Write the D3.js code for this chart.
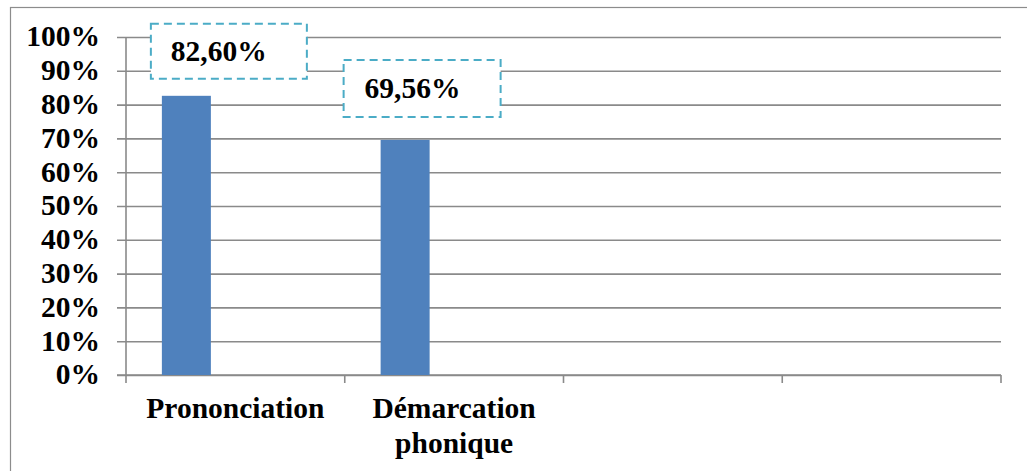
<!DOCTYPE html>
<html><head><meta charset="utf-8">
<script src="https://cdn.jsdelivr.net/npm/d3@7"></script>
<style>body{margin:0;background:#fff}svg{display:block}</style>
</head><body>
<svg id="c" width="1027" height="471"></svg>
<script>
const categories = ["Prononciation", "Démarcation phonique", "", ""];
const values = [82.60, 69.56];
const valueLabels = ["82,60%", "69,56%"];
const yTicks = [0, 10, 20, 30, 40, 50, 60, 70, 80, 90, 100];
const yTickLabels = ["0%","10%","20%","30%","40%","50%","60%","70%","80%","90%","100%"];

const svg = d3.select("#c");
const font = "'Liberation Serif','Times New Roman',serif";
const FS = 29.5;
const L = 126, R = 1001, T = 37, B = 375;

// outer frame
svg.append("rect").attr("x",10.5).attr("y",7.5).attr("width",1030).attr("height",480)
  .attr("fill","none").attr("stroke","#8c8c8c").attr("stroke-width",1.2);

const x = d3.scaleBand().domain(d3.range(categories.length)).range([L, R]).padding(0);
const xs = d3.scaleBand().domain([0,1,2]).range([0, x.bandwidth()]).paddingInner(0).paddingOuter(0.732);
const y = d3.scaleLinear().domain([0,100]).range([B, T]);

// gridlines + y ticks
const yAxis = d3.axisLeft(y).tickValues(yTicks).tickSize(-(R - L)).tickFormat((d,i)=>yTickLabels[i]);
const gy = svg.append("g").attr("transform",`translate(${L},0)`).call(yAxis);
gy.select(".domain").remove();
gy.selectAll(".tick line").attr("stroke","#8a8a8a").attr("stroke-width",1.6).attr("x2", R - L).attr("x1",-9);
gy.selectAll(".tick text").attr("x",-26).attr("dy","0.3em")
  .attr("font-family",font).attr("font-weight","bold").attr("font-size",FS).attr("fill","#000");

// y axis line
svg.append("line").attr("x1",L).attr("x2",L).attr("y1",T).attr("y2",B)
  .attr("stroke","#8a8a8a").attr("stroke-width",1.6);

// x axis
svg.append("line").attr("x1",L-9).attr("x2",R).attr("y1",B).attr("y2",B)
  .attr("stroke","#8a8a8a").attr("stroke-width",1.6);
const bounds = d3.range(categories.length).map(i=>x(i)).concat([R]);
svg.selectAll(".xt").data(bounds).enter().append("line")
  .attr("x1",d=>d).attr("x2",d=>d).attr("y1",B).attr("y2",B+8)
  .attr("stroke","#8a8a8a").attr("stroke-width",1.6);

// bars
svg.selectAll(".bar").data(values).enter().append("rect")
  .attr("x",(d,i)=>x(i)+xs(0)).attr("width",xs.bandwidth())
  .attr("y",d=>y(d)).attr("height",d=>B - y(d)).attr("fill","#4F81BD");

// category labels
categories.forEach((c,i)=>{
  if(!c) return;
  const words = c.split(" ");
  const t = svg.append("text").attr("x", x(i)+x.bandwidth()/2).attr("y",418)
    .attr("text-anchor","middle").attr("font-family",font).attr("font-weight","bold")
    .attr("font-size",FS).attr("fill","#000");
  words.forEach((w,k)=>t.append("tspan").attr("x",x(i)+x.bandwidth()/2).attr("dy",k?35:0).text(w));
});

// data labels (boxes manually placed, as in the reference)
const nudge = [{dx:-11, dy:-72, w:156, h:55, tx:20}, {dx:-37, dy:-80, w:157, h:57, tx:21}];
values.forEach((v,i)=>{
  const bx = x(i)+xs(0)+nudge[i].dx, by = y(v)+nudge[i].dy;
  svg.append("rect").attr("x",bx).attr("y",by).attr("width",nudge[i].w).attr("height",nudge[i].h)
    .attr("fill","#fff").attr("stroke","#4BACC6").attr("stroke-width",2).attr("stroke-dasharray","8,5");
  svg.append("text").attr("x",bx+nudge[i].tx).attr("y",by+nudge[i].h/2+10)
    .attr("font-family",font).attr("font-weight","bold").attr("font-size",FS).attr("fill","#000")
    .text(valueLabels[i]);
});
</script>
</body></html>
